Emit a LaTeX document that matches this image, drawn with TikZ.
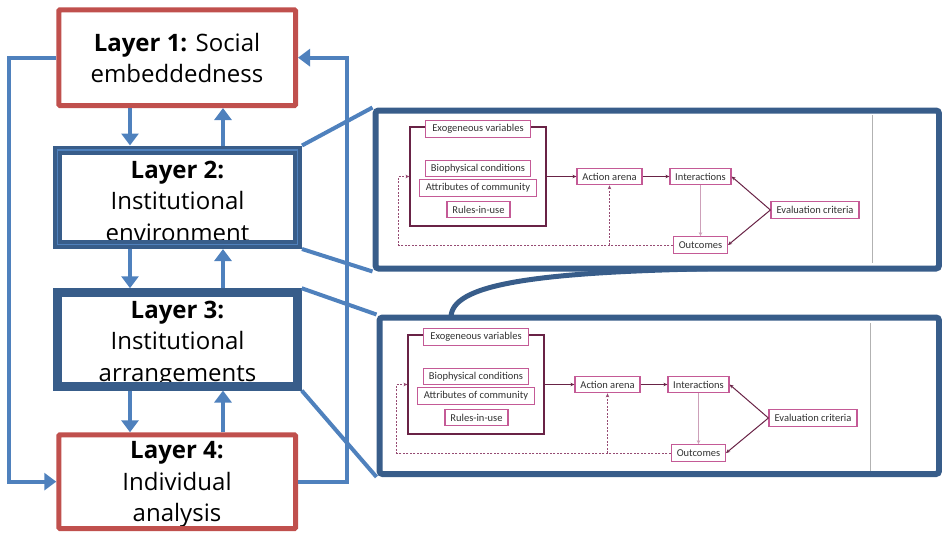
\documentclass[tikz,border=0pt]{standalone}
\usepackage{fontspec}
\setmainfont{Open Sans}
\newfontfamily\iadfont{Carlito}
\usetikzlibrary{arrows.meta}
\definecolor{layerred}{RGB}{192,80,77}
\definecolor{darkblue}{RGB}{56,93,138}
\definecolor{lightblue}{RGB}{79,129,189}
\definecolor{iadpink}{RGB}{196,90,150}
\definecolor{iadmaroon}{RGB}{105,35,70}
\definecolor{iaddash}{RGB}{150,75,115}
\definecolor{iadline}{RGB}{205,160,185}
\definecolor{iadtext}{RGB}{50,50,50}
\tikzstyle{layertext} = [align=center, anchor=base, font=\fontsize{24}{31.5}\selectfont]
\tikzstyle{redlayer} = [rectangle, rounded corners=1pt, draw=layerred, line width=5pt, minimum width=236.7pt, minimum height=95.7pt]
\tikzstyle{bluelayer} = [rectangle, draw=darkblue, minimum width=240pt]
\tikzstyle{bluearrow} = [draw=lightblue, line width=4pt, -{Triangle[length=12pt,width=17pt]}]
\tikzstyle{zoomline} = [draw=lightblue, line width=4pt]
\tikzstyle{panel} = [rectangle, rounded corners=3pt, draw=darkblue, line width=6pt, fill=white]
\tikzstyle{tail} = [draw=darkblue, line width=5pt]
\tikzstyle{iadbox} = [rectangle, draw=iadpink, line width=1.2pt, fill=white, minimum height=16.5pt, inner sep=1pt, text=iadtext, font=\iadfont\fontsize{10.5}{12}\selectfont]
\tikzstyle{iadframe} = [rectangle, draw=iadmaroon, line width=1.2pt]
\tikzstyle{iadarrow} = [draw=iadmaroon, line width=1pt, -{Stealth[length=4pt,width=3.5pt]}]
\tikzstyle{iadthin} = [draw=iadline, line width=0.9pt, -{Stealth[length=4pt,width=3.5pt]}]
\tikzstyle{iaddashed} = [draw=iaddash, line width=1pt, dash pattern=on 2pt off 1.5pt, -{Stealth[length=4pt,width=3.5pt]}]
\tikzstyle{greyline} = [draw=black!30, line width=0.8pt]
\begin{document}
\begin{tikzpicture}[x=1pt, y=-1pt]
\useasboundingbox (0,0) rectangle (942,533);

% layer texts first, the frames are drawn over them
\node (t1) [layertext] at (177,82.7) {\textbf{Layer 1:} Social\\embeddedness};
\node (t2) [layertext] at (177.5,241) {\textbf{Layer 2:}\\Institutional\\environment};
\node (t3) [layertext] at (177.5,381) {\textbf{Layer 3:}\\Institutional\\arrangements};
\node (t4) [layertext] at (177,521.7) {\textbf{Layer 4:}\\Individual\\analysis};

\node (l1) [redlayer] at (177.15,57.65) {};
\node (l2) [bluelayer, line width=9pt, minimum height=94.5pt] at (177.5,197.25) {};
\node (l2in) [rectangle, draw=lightblue, line width=1.5pt, minimum width=240pt, minimum height=94.5pt] at (l2) {};
\node (l3) [bluelayer, line width=8.5pt, minimum height=93.8pt] at (177.5,339.4) {};
\node (l4) [redlayer, minimum height=93.7pt] at (177.15,481.65) {};

% arrows between the layers
\coordinate (dn) at (130,0);
\coordinate (up) at (223,0);
\draw [bluearrow] (l1.south -| dn) -- (l2.north -| dn);
\draw [bluearrow] (l2.north -| up) -- (l1.south -| up);
\draw [bluearrow] (l2.south -| dn) -- (l3.north -| dn);
\draw [bluearrow] (l3.north -| up) -- (l2.south -| up);
\draw [bluearrow] (l3.south -| dn) -- (l4.north -| dn);
\draw [bluearrow] (l4.north -| up) -- (l3.south -| up);

% outer feedback loops
\coordinate (lft) at (8.7,0);
\coordinate (rgt) at (346.7,0);
\draw [bluearrow] (l1.west) -| (lft |- l4.west) -- (l4.west);
\draw [bluearrow] (l4.east) -| (rgt |- l1.east) -- (l1.east);

% zoomed panels
\node (pan1) [panel, minimum width=563.5pt, minimum height=158pt] at (657.25,189.5) {};
\node (pan2) [panel, minimum width=559.5pt, minimum height=156.5pt] at (659.25,395.75) {};
\coordinate (tail1) at (451,317.5);
\coordinate (tail2) at (720,268.5);
\draw [tail] (tail1) .. controls (451,285) and (530,272) .. (tail2);
\draw [zoomline] (l2.north east) -- (pan1.north west);
\draw [zoomline] (l2.south east) -- (pan1.south west);
\draw [zoomline] (l3.north east) -- (pan2.north west);
\draw [zoomline] (l3.south east) -- (pan2.south west);

% framework inside each panel
\foreach \p/\dx/\dy in {1/0/0, 2/-2/208} {
\begin{scope}[shift={(\dx,\dy)}]
\node (ext\p) [iadframe, minimum width=136pt, minimum height=99pt] at (478,176.5) {};
\node (exo\p) [iadbox, minimum width=105pt] at (478,129) {Exogeneous variables};
\node (bio\p) [iadbox, minimum width=105pt] at (478,168.5) {Biophysical conditions};
\node (attr\p) [iadbox, minimum width=117pt] at (478,188) {Attributes of community};
\node (rules\p) [iadbox, minimum width=63pt] at (478.5,209.5) {Rules-in-use};
\node (act\p) [iadbox, minimum width=65pt] at (609.5,176.5) {Action arena};
\node (inter\p) [iadbox, minimum width=61pt] at (700.5,176.5) {Interactions};
\node (eval\p) [iadbox, minimum width=88pt] at (815,210) {Evaluation criteria};
\node (out\p) [iadbox, minimum width=54pt] at (700.5,245) {Outcomes};
\coordinate (back\p) at (398.5,210);
\draw [iadarrow] (ext\p.east) -- (act\p.west);
\draw [iadarrow] (act\p) -- (inter\p);
\draw [iadthin] (inter\p) -- (out\p);
\draw [iadarrow] (eval\p.west) -- (inter\p.east);
\draw [iadarrow] (eval\p.west) -- (out\p.east);
\draw [iaddashed] (out\p.west) -| (back\p) |- (ext\p.west);
\draw [iaddashed] (act\p.south |- out\p.west) -- (act\p.south);
\draw [greyline] (872,115) -- (872,263);
\end{scope}
}
\end{tikzpicture}
\end{document}
